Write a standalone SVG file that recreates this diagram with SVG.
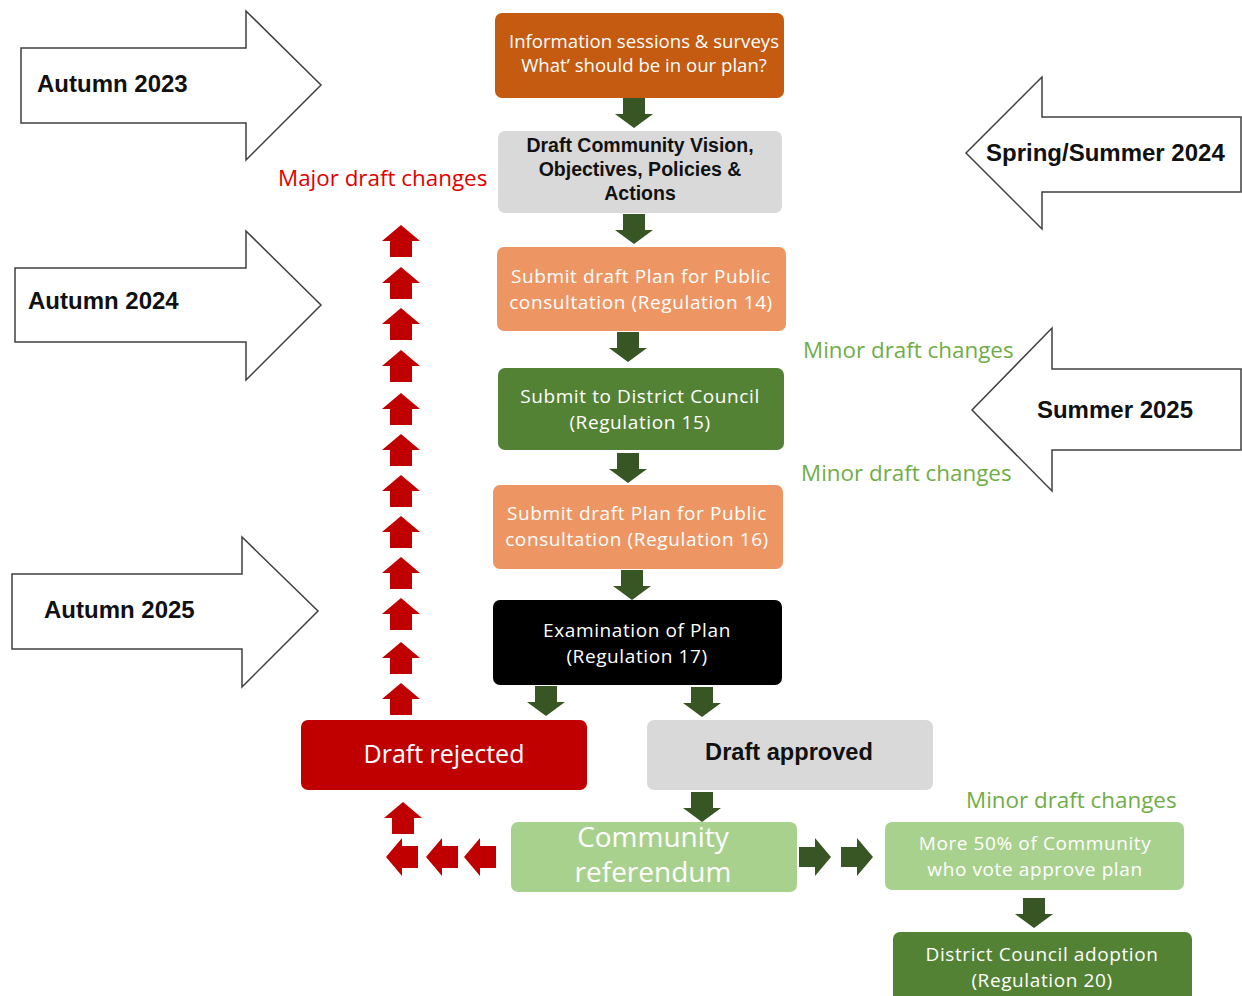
<svg xmlns="http://www.w3.org/2000/svg" xmlns:xlink="http://www.w3.org/1999/xlink" width="1242" height="996" viewBox="0 0 1242 996">
<style>
.big{fill:#fff;stroke:#404040;stroke-width:1.5}
.bl{font-family:"Liberation Sans",Arial,sans-serif;font-weight:bold;font-size:24px;fill:#111}
.nt{font-family:"Open Sans","Noto Sans",sans-serif;text-anchor:middle;fill:#fff}
.t2{font-size:19px;letter-spacing:0.6px}
.nb{font-family:"Liberation Sans",Arial,sans-serif;font-weight:bold;text-anchor:middle;fill:#111}
.lab{font-family:"Open Sans","Noto Sans",sans-serif;font-size:22.4px}
.g{fill:#375623}
.r{fill:#C00000}
</style>
<defs>
<path id="dn" d="M-11,0H11V16H19L0,30L-19,16H-11Z"/>
<path id="up" d="M0,0L19,16H11V32H-11V16H-19Z"/>
<path id="lf" d="M0,0L16,-19V-11H32V11H16V19Z"/>
<path id="rt" d="M0,0L-16,-19V-10H-32V10H-16V19Z"/>
</defs>
<rect width="1242" height="996" fill="#fff"/>

<g id="season-arrows">
<path class="big" d="M21,48H246V11L321,85L246,160V123H21Z"/>
<text class="bl" x="37" y="92">Autumn 2023</text>
<path class="big" d="M15,268H246V231L321,305L246,380V342H15Z"/>
<text class="bl" x="28" y="309">Autumn 2024</text>
<path class="big" d="M12,574H242V537L318,611L242,687V649H12Z"/>
<text class="bl" x="44" y="618">Autumn 2025</text>
<path class="big" d="M1241,117H1042V77L966,153L1042,229V192H1241Z"/>
<text class="bl" x="986" y="161">Spring/Summer 2024</text>
<path class="big" d="M1241,369H1052V328L972,410L1052,491V450H1241Z"/>
<text class="bl" x="1115" y="418" text-anchor="middle">Summer 2025</text>
</g>

<g id="labels">
<text class="lab" x="278" y="186" fill="#E00000">Major draft changes</text>
<text class="lab" x="803" y="358" fill="#70AD47">Minor draft changes</text>
<text class="lab" x="801" y="481" fill="#70AD47">Minor draft changes</text>
<text class="lab" x="966" y="808" fill="#70AD47">Minor draft changes</text>
</g>

<g id="connectors">
<use href="#dn" class="g" x="634" y="98"/>
<use href="#dn" class="g" x="634" y="214"/>
<use href="#dn" class="g" x="628" y="332"/>
<use href="#dn" class="g" x="628" y="453"/>
<use href="#dn" class="g" x="632" y="570"/>
<use href="#dn" class="g" x="546" y="686"/>
<use href="#dn" class="g" x="702" y="687"/>
<use href="#dn" class="g" x="702" y="792"/>
<use href="#dn" class="g" x="1034" y="898"/>
<use href="#rt" class="g" x="831" y="857"/>
<use href="#rt" class="g" x="873" y="857"/>
<use href="#up" class="r" x="401" y="225"/>
<use href="#up" class="r" x="401" y="267"/>
<use href="#up" class="r" x="401" y="308"/>
<use href="#up" class="r" x="401" y="350"/>
<use href="#up" class="r" x="401" y="393"/>
<use href="#up" class="r" x="401" y="434"/>
<use href="#up" class="r" x="401" y="475"/>
<use href="#up" class="r" x="401" y="516"/>
<use href="#up" class="r" x="401" y="557"/>
<use href="#up" class="r" x="401" y="598"/>
<use href="#up" class="r" x="401" y="642"/>
<use href="#up" class="r" x="401" y="683"/>
<use href="#up" class="r" x="403" y="802"/>
<use href="#lf" class="r" x="386" y="857"/>
<use href="#lf" class="r" x="426" y="857"/>
<use href="#lf" class="r" x="464" y="857"/>
</g>

<g id="n1">
<rect x="495" y="13" width="289" height="85" rx="7" fill="#C55A11"/>
<text class="nt" x="644" y="48" font-size="18.6">Information sessions &amp; surveys</text>
<text class="nt" x="644" y="72" font-size="18.6">What’ should be in our plan?</text>
</g>
<g id="n2">
<rect x="498" y="131" width="284" height="82" rx="7" fill="#D9D9D9"/>
<text class="nb" x="640" y="152" font-size="19.5">Draft Community Vision,</text>
<text class="nb" x="640" y="176" font-size="19.5">Objectives, Policies &amp;</text>
<text class="nb" x="640" y="200" font-size="19.5">Actions</text>
</g>
<g id="n3">
<rect x="497" y="247" width="289" height="84" rx="7" fill="#EE9663"/>
<text class="nt t2" x="641" y="283">Submit draft Plan for Public</text>
<text class="nt t2" x="641" y="309">consultation (Regulation 14)</text>
</g>
<g id="n4">
<rect x="498" y="368" width="286" height="82" rx="7" fill="#548235"/>
<text class="nt t2" x="640" y="403">Submit to District Council</text>
<text class="nt t2" x="640" y="429">(Regulation 15)</text>
</g>
<g id="n5">
<rect x="493" y="485" width="290" height="84" rx="7" fill="#EE9663"/>
<text class="nt t2" x="637" y="520">Submit draft Plan for Public</text>
<text class="nt t2" x="637" y="546">consultation (Regulation 16)</text>
</g>
<g id="n6">
<rect x="493" y="600" width="289" height="85" rx="7" fill="#000"/>
<text class="nt t2" x="637" y="637" fill="#eee">Examination of Plan</text>
<text class="nt t2" x="637" y="663" fill="#eee">(Regulation 17)</text>
</g>
<g id="n7">
<rect x="301" y="720" width="286" height="70" rx="7" fill="#C00000"/>
<text class="nt" x="444" y="763" font-size="25">Draft rejected</text>
</g>
<g id="n8">
<rect x="647" y="720" width="286" height="70" rx="7" fill="#D9D9D9"/>
<text class="nb" x="789" y="760" font-size="23.6">Draft approved</text>
</g>
<g id="n9">
<rect x="511" y="822" width="286" height="70" rx="7" fill="#A9D18E"/>
<text class="nt" x="653" y="847" font-size="28">Community</text>
<text class="nt" x="653" y="882" font-size="28">referendum</text>
</g>
<g id="n10">
<rect x="885" y="822" width="299" height="68" rx="7" fill="#A9D18E"/>
<text class="nt t2" x="1035" y="850">More 50% of Community</text>
<text class="nt t2" x="1035" y="876">who vote approve plan</text>
</g>
<g id="n11">
<rect x="893" y="932" width="299" height="80" rx="7" fill="#548235"/>
<text class="nt t2" x="1042" y="961">District Council adoption</text>
<text class="nt t2" x="1042" y="987">(Regulation 20)</text>
</g>
</svg>
